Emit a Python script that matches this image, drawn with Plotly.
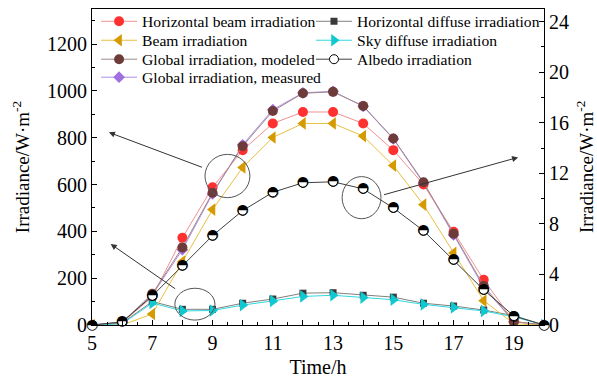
import plotly.graph_objects as go

hours = list(range(5, 21))
horizontal_beam = [0, 10, 120, 373, 588, 747, 861, 910, 910, 861, 747, 600, 398, 193, 15, 0]
horizontal_diffuse = [0, 8, 100, 67, 67, 93, 111, 136, 138, 127, 119, 93, 81, 64, 40, 0]
beam = [0, 0, 47, 271, 493, 673, 801, 861, 861, 807, 681, 514, 308, 104, 5, 0]
sky_diffuse = [0, 5, 94, 60, 62, 85, 103, 122, 127, 117, 108, 88, 75, 60, 35, 0]
global_modeled = [0, 12, 133, 331, 565, 764, 914, 990, 996, 936, 797, 610, 390, 167, 15, 0]
global_measured = [0, 12, 128, 322, 560, 770, 920, 992, 998, 934, 795, 606, 385, 160, 14, 0]
albedo = [0, 0.24, 2.3, 4.7, 7.07, 9.05, 10.5, 11.25, 11.33, 10.77, 9.26, 7.46, 5.16, 2.78, 0.71, 0]

x_tickvals = list(range(5, 21))
x_ticktext = [str(h) if h % 2 == 1 and h < 20 else "" for h in x_tickvals]

FONT = "Liberation Serif"
Y_TITLE = "Irradiance/W·m<sup>-2</sup>"

# legend slot positions (column x, row y) in paper coordinates
COL_X = [0.009, 0.4845]
ROW_Y = [0.96, 0.90, 0.84, 0.783]

fig = go.Figure()
legend_layouts = {}

def add(name, y, lcolor, mcolor, symbol, size, slot, yaxis="y", mline=None):
    col, row = slot
    idx = row * 2 + col + 1
    lname = "legend" if idx == 1 else f"legend{idx}"
    legend_layouts[lname] = dict(
        x=COL_X[col], y=ROW_Y[row], xanchor="left", yanchor="middle",
        font=dict(family=FONT, size=15.6, color="black"),
        bgcolor="rgba(0,0,0,0)", itemwidth=36, borderwidth=0,
    )
    fig.add_trace(go.Scatter(
        x=hours, y=y, name=name, mode="lines+markers", yaxis=yaxis, legend=lname,
        line=dict(color=lcolor, width=1),
        marker=dict(symbol=symbol, size=size, color=mcolor,
                    line=mline if mline else dict(width=0)),
    ))

# drawing order: measured behind modeled
add("Global irradiation, measured", global_measured, "#B090E8", "#A070E0", "diamond", 9, (0, 3))
add("Horizontal beam irradiation", horizontal_beam, "#F09090", "#FF3030", "circle", 10, (0, 0))
add("Horizontal diffuse irradiation", horizontal_diffuse, "#808080", "#3A3A3A", "square", 7, (1, 0))
add("Beam irradiation", beam, "#E8C040", "#D49A00", "triangle-left", 11, (0, 1))
add("Sky diffuse irradiation", sky_diffuse, "#30D8E0", "#10C8D0", "triangle-right", 11, (1, 1))
add("Global irradiation, modeled", global_modeled, "#A08888", "#6E3B3B", "circle", 10, (0, 2))
add("Albedo irradiation", albedo, "#404040", "white", "circle", 9, (1, 2), yaxis="y2",
    mline=dict(color="black", width=1))

# half-filled albedo markers overlay
fig.add_trace(go.Scatter(
    x=hours, y=albedo, yaxis="y2", mode="text", text=["\u25D3"] * len(hours),
    textposition="middle center", textfont=dict(family="DejaVu Sans", size=14, color="black"),
    showlegend=False, hoverinfo="skip", cliponaxis=False,
))

# ellipses
for (x0, x1, y0, y1) in [(8.75, 10.24, 544, 729), (7.75, 9.08, 21, 157), (13.30, 14.59, 454, 634)]:
    fig.add_shape(type="circle", xref="x", yref="y", x0=x0, x1=x1, y0=y0, y1=y1,
                  line=dict(color="#555555", width=1))

# arrows: (head x, head y, tail x, tail y)
for (hx, hy, tx, ty) in [(5.56, 823, 8.75, 669), (5.62, 346, 7.86, 146), (19.14, 716, 14.59, 553)]:
    fig.add_annotation(x=hx, y=hy, ax=tx, ay=ty, xref="x", yref="y", axref="x", ayref="y",
                       text=" ", showarrow=True, arrowhead=2, arrowsize=1.2, arrowwidth=1,
                       arrowcolor="#333333", standoff=0, startstandoff=0)

# right axis title (annotation placed near the image edge)
fig.add_annotation(x=1, y=0.5, xref="paper", yref="paper", xanchor="center", yanchor="middle",
                   xshift=41, text=Y_TITLE, textangle=-90, showarrow=False,
                   font=dict(family=FONT, size=19, color="black"))

axis_common = dict(showline=True, linecolor="black", linewidth=1, ticks="inside",
                   tickcolor="black", showgrid=False, zeroline=False, automargin=False,
                   tickfont=dict(family=FONT, size=20, color="black"))

fig.update_layout(
    width=597, height=381,
    margin=dict(l=92, r=53, t=9, b=56, autoexpand=False),
    paper_bgcolor="white", plot_bgcolor="white",
    font=dict(family=FONT, color="black"),
    showlegend=True,
    xaxis=dict(range=[5, 20], tickvals=x_tickvals, ticktext=x_ticktext, ticklen=5,
               mirror=True,
               minor=dict(dtick=0.5, ticks="inside", ticklen=3, tickcolor="black"),
               title=dict(text="Time/h", font=dict(family=FONT, size=20), standoff=6),
               **axis_common),
    yaxis=dict(range=[0, 1350], dtick=200, ticklen=5,
               minor=dict(dtick=100, ticks="inside", ticklen=3, tickcolor="black"),
               title=dict(text=Y_TITLE, font=dict(family=FONT, size=19), standoff=12),
               **axis_common),
    yaxis2=dict(range=[0, 25], dtick=4, ticklen=5, overlaying="y", side="right",
                minor=dict(dtick=2, ticks="inside", ticklen=3, tickcolor="black"),
                **axis_common),
    **legend_layouts,
)

fig.write_html("out.html")
